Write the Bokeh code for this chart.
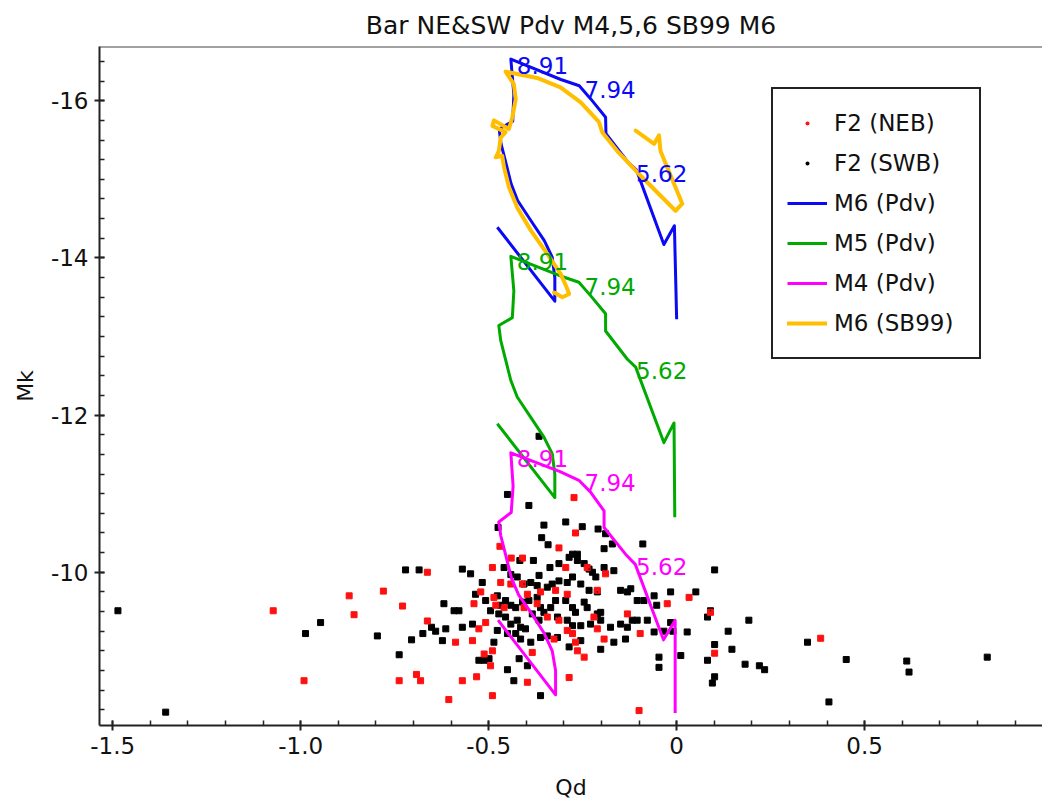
from bokeh.plotting import figure
from bokeh.models import (Range1d, SingleIntervalTicker, Legend, Span,
                          LegendItem, ColumnDataSource, CustomJSTickFormatter)
from bokeh.embed import file_html
from bokeh.resources import INLINE
from bokeh.core.properties import value

FONT = "DejaVu Sans"

# ---------------- data ----------------
neb_qd = [-1.073, -0.991, -0.871, -0.858, -0.780, -0.729, -0.738, -0.692, -0.681, -0.663, -0.663,
          -0.273, -0.269, -0.313, -0.470, -0.440, -0.410, -0.490, -0.295, -0.238, -0.189,
          -0.468, -0.441, -0.410, -0.397, -0.362, -0.322, -0.291, -0.211, -0.521, -0.539,
          -0.486, -0.481, -0.459, -0.406, -0.371, -0.344, -0.313, -0.291, -0.277, -0.220,
          -0.211, -0.193, -0.131, -0.097, -0.025, 0.033, -0.508, -0.526, -0.588, -0.543,
          -0.512, -0.490, -0.495, -0.384, -0.326, -0.269, -0.246, -0.264, -0.570, -0.532,
          -0.397, -0.286, -0.606, -0.490, -0.100, 0.090, 0.101, 0.383]
neb_mk = [-9.51, -8.62, -9.70, -9.46, -9.76, -9.57, -8.62, -8.70, -8.62, -10.00, -9.38,
          -10.95, -10.50, -10.31, -10.33, -10.18, -10.18, -10.06, -10.06, -10.06, -9.98,
          -9.87, -9.85, -9.85, -9.72, -9.75, -9.77, -9.72, -9.77, -9.75, -9.60,
          -9.68, -9.58, -9.55, -9.55, -9.60, -9.43, -9.39, -9.26, -9.22, -9.43,
          -9.28, -9.15, -9.47, -9.22, -9.60, -9.68, -9.36, -9.28, -9.11, -9.13,
          -8.96, -9.00, -8.81, -8.98, -9.15, -9.11, -8.92, -9.00, -8.62, -8.67,
          -8.60, -8.66, -8.38, -8.43, -8.24, -9.49, -8.97, -9.16]

swb_qd = [-1.486, -1.359, -0.987, -0.947, -0.796, -0.738, -0.721, -0.685, -0.705, -0.675, -0.652, -0.641,
          -0.366, -0.450, -0.393, -0.475, -0.353, -0.295, -0.251, -0.209, -0.189, -0.359,
          -0.342, -0.193, -0.171, -0.090, -0.570, -0.548, -0.517, -0.459, -0.441, -0.417,
          -0.381, -0.337, -0.313, -0.286, -0.277, -0.264, -0.264, -0.246, -0.233, -0.224,
          -0.215, -0.193, -0.167, -0.424, -0.406, -0.388, -0.366, -0.371, -0.344, -0.331,
          -0.313, -0.291, -0.277, -0.255, -0.233, -0.211, -0.149, -0.131, -0.122, -0.105,
          -0.087, -0.060, -0.016, 0.051, -0.535, -0.508, -0.477, -0.468, -0.455, -0.441,
          -0.428, -0.410, -0.393, -0.371, -0.362, -0.353, -0.335, -0.322, -0.295, -0.277,
          -0.269, -0.246, -0.238, -0.211, -0.202, -0.619, -0.592, -0.579, -0.495, -0.473,
          -0.455, -0.441, -0.424, -0.415, -0.402, -0.384, -0.366, -0.317, -0.291, -0.277,
          -0.255, -0.229, -0.202, -0.176, -0.149, -0.131, -0.118, -0.105, -0.078, -0.053,
          -0.016, 0.028, -0.060, -0.614, -0.570, -0.543, -0.477, -0.450, -0.428, -0.415,
          -0.388, -0.362, -0.344, -0.317, -0.286, -0.255, -0.202, -0.167, -0.136, -0.623,
          -0.486, -0.512, -0.499, -0.526, -0.419, -0.397, -0.450, -0.433, -0.362, -0.047,
          -0.047, 0.011, 0.082, 0.082, 0.101, -0.034, -0.010, 0.137, 0.192, 0.101,
          0.147, 0.101, 0.095, 0.182, 0.220, 0.234, 0.348, 0.451, 0.405, 0.612,
          0.618, 0.826, 0.090]
swb_mk = [-9.51, -8.22, -9.22, -9.36, -9.19, -8.95, -10.03, -10.03, -9.14, -9.22, -9.30, -9.25,
          -11.73, -10.99, -10.85, -10.57, -10.60, -10.64, -10.58, -10.55, -10.49, -10.44,
          -10.35, -10.30, -10.36, -10.36, -10.04, -9.98, -9.87, -10.06, -9.97, -10.15,
          -10.15, -10.06, -10.11, -10.19, -10.23, -10.23, -10.15, -10.11, -10.04, -10.00,
          -9.94, -10.06, -10.02, -9.94, -9.85, -9.87, -9.96, -9.83, -9.81, -9.85,
          -9.89, -9.87, -9.94, -9.85, -9.77, -9.75, -9.77, -9.75, -9.79, -9.64,
          -9.64, -9.70, -9.75, -9.75, -9.72, -9.64, -9.70, -9.58, -9.64, -9.58,
          -9.55, -9.62, -9.64, -9.68, -9.55, -9.49, -9.55, -9.64, -9.64, -9.55,
          -9.49, -9.62, -9.55, -9.47, -9.49, -9.60, -9.51, -9.51, -9.51, -9.47,
          -9.43, -9.34, -9.39, -9.30, -9.28, -9.47, -9.39, -9.43, -9.39, -9.32,
          -9.32, -9.34, -9.39, -9.30, -9.34, -9.30, -9.39, -9.39, -9.39, -9.58,
          -9.36, -9.24, -9.24, -9.28, -9.30, -9.34, -9.26, -9.22, -9.22, -9.15,
          -9.11, -9.17, -9.19, -9.17, -9.05, -9.13, -9.02, -9.11, -9.15, -9.13,
          -9.11, -8.88, -8.90, -8.88, -8.90, -8.81, -8.76, -8.62, -8.43, -8.92,
          -8.79, -8.94, -8.88, -9.43, -10.03, -9.25, -9.25, -9.25, -9.39, -9.08,
          -9.02, -8.67, -8.59, -8.83, -8.81, -8.76, -9.11, -8.89, -8.35, -8.87,
          -8.73, -8.92, -9.51]

m6_qd = [0.000, -0.006, -0.034, -0.107, -0.130, -0.188, -0.189, -0.228, -0.259, -0.308, -0.441, -0.433,
         -0.436, -0.472, -0.467, -0.440, -0.423, -0.387, -0.352, -0.331, -0.324, -0.324, -0.477]
m6_mk = [-13.22, -14.41, -14.17, -15.12, -15.22, -15.58, -15.79, -16.02, -16.19, -16.27, -16.53, -16.08,
         -15.74, -15.64, -15.45, -14.94, -14.73, -14.47, -14.22, -14.01, -13.75, -13.45, -14.39]

m5_qd = [-0.005, -0.007, -0.034, -0.109, -0.131, -0.189, -0.189, -0.229, -0.260, -0.309, -0.441, -0.433,
         -0.437, -0.473, -0.468, -0.441, -0.424, -0.388, -0.353, -0.331, -0.324, -0.324, -0.477]
m5_mk = [-10.70, -11.90, -11.65, -12.61, -12.71, -13.07, -13.29, -13.52, -13.69, -13.77, -14.02, -13.58,
         -13.24, -13.14, -12.95, -12.44, -12.23, -11.97, -11.72, -11.51, -11.25, -10.95, -11.89]

m4_qd = [-0.004, -0.004, -0.035, -0.110, -0.136, -0.193, -0.193, -0.229, -0.260, -0.310, -0.441, -0.435,
         -0.440, -0.473, -0.468, -0.439, -0.420, -0.385, -0.352, -0.331, -0.322, -0.322, -0.475]
m4_mk = [-8.21, -9.39, -9.14, -10.10, -10.23, -10.57, -10.78, -11.02, -11.17, -11.28, -11.52, -11.10,
         -10.76, -10.64, -10.47, -9.92, -9.71, -9.47, -9.22, -9.00, -8.75, -8.44, -9.39]

sb99_qd = [-0.109, -0.060, -0.047, -0.043, 0.015, -0.003, -0.105, -0.158, -0.198, -0.207, -0.255,
           -0.309, -0.371, -0.455, -0.433, -0.428, -0.437, -0.446, -0.486, -0.490, -0.455, -0.468,
           -0.473, -0.481, -0.464, -0.459, -0.446, -0.424, -0.388, -0.344, -0.309, -0.293, -0.286,
           -0.304, -0.326]
sb99_mk = [-15.62, -15.45, -15.56, -15.36, -14.69, -14.60, -15.09, -15.36, -15.60, -15.73, -15.98,
           -16.17, -16.29, -16.37, -16.21, -16.02, -15.79, -15.64, -15.75, -15.68, -15.60, -15.53,
           -15.36, -15.28, -15.30, -15.15, -14.90, -14.64, -14.35, -14.05, -13.80, -13.63, -13.54,
           -13.50, -13.56]

age_labels = ["8.91", "7.94", "5.62"]
lab_qd = [-0.425, -0.245, -0.108]
m6_lab_mk = [-16.45, -16.14, -15.07]
m5_lab_mk = [-13.95, -13.64, -12.57]
m4_lab_mk = [-11.45, -11.14, -10.07]

X_LO, X_HI = -1.535, 0.973
Y_BOTTOM, Y_TOP = -8.05, -16.69

# ---------------- figure ----------------
p = figure(width=1042, height=805,
           min_border_left=99, min_border_right=0, min_border_top=46, min_border_bottom=80,
           x_range=Range1d(X_LO, X_HI), y_range=Range1d(Y_BOTTOM, Y_TOP),
           output_backend="svg", toolbar_location=None,
           title="Bar NE&SW Pdv M4,5,6 SB99 M6", x_axis_label="Qd", y_axis_label="Mk")
p.outline_line_color = None
p.xgrid.visible = False
p.ygrid.visible = False
p.background_fill_color = "white"
p.border_fill_color = "white"

p.title.align = "center"
p.title.text_font = FONT
p.title.text_font_size = "25px"
p.title.text_font_style = "normal"
p.title.text_color = "#111111"
p.title.standoff = 14

p.xaxis.ticker = SingleIntervalTicker(interval=0.5, num_minor_ticks=5)
p.yaxis.ticker = SingleIntervalTicker(interval=2, num_minor_ticks=8)
p.xaxis.formatter = CustomJSTickFormatter(code="return tick == 0 ? '0' : tick.toFixed(1);")
p.yaxis.formatter = CustomJSTickFormatter(code="return tick.toFixed(0);")

for ax in (p.xaxis[0], p.yaxis[0]):
    ax.axis_line_width = 2
    ax.axis_line_color = "#222222"
    ax.major_tick_in = 5
    ax.major_tick_out = 5
    ax.minor_tick_in = 5
    ax.minor_tick_out = 0
    ax.major_tick_line_width = 2
    ax.minor_tick_line_width = 1.5
    ax.major_tick_line_color = "#222222"
    ax.minor_tick_line_color = "#222222"
    ax.major_label_text_font = FONT
    ax.major_label_text_font_size = "23px"
    ax.major_label_text_color = "#111111"
    ax.major_label_standoff = 6
    ax.axis_label_text_font = FONT
    ax.axis_label_text_font_size = "22px"
    ax.axis_label_text_font_style = "normal"
    ax.axis_label_text_color = "#111111"
p.xaxis.axis_label_standoff = 18
p.yaxis.axis_label_standoff = 10

p.add_layout(Span(location=Y_TOP, dimension="width", line_color="#444444", line_width=2))

RED = "#ff1010"
r_swb = p.scatter(swb_qd, swb_mk, marker="square", size=6, color="black")
r_neb = p.scatter(neb_qd, neb_mk, marker="square", size=6, color=RED)
# small dot keys for the legend (hidden inside the squares of the same colour)
k_swb = p.scatter(swb_qd, swb_mk, marker="dot", size=6, color="black")
k_neb = p.scatter(neb_qd, neb_mk, marker="dot", size=6, color=RED)

BLUE, GREEN, MAG, ORANGE = "#0a0af5", "#00aa00", "#ff00ff", "#ffbf00"
r_m6 = p.line(m6_qd, m6_mk, line_color=BLUE, line_width=3, line_join="round")
r_m5 = p.line(m5_qd, m5_mk, line_color=GREEN, line_width=3, line_join="round")
r_m4 = p.line(m4_qd, m4_mk, line_color=MAG, line_width=3, line_join="round")
r_sb = p.line(sb99_qd, sb99_mk, line_color=ORANGE, line_width=4, line_join="round", line_cap="round")

for mk, col in ((m6_lab_mk, BLUE), (m5_lab_mk, GREEN), (m4_lab_mk, MAG)):
    src = ColumnDataSource(dict(x=lab_qd, y=mk, t=age_labels))
    p.text(x="x", y="y", text="t", source=src, text_color=col, text_font=value(FONT),
           text_font_size="23px", text_align="left", text_baseline="middle")

legend = Legend(items=[LegendItem(label="F2 (NEB)", renderers=[k_neb]),
                       LegendItem(label="F2 (SWB)", renderers=[k_swb]),
                       LegendItem(label="M6 (Pdv)", renderers=[r_m6]),
                       LegendItem(label="M5 (Pdv)", renderers=[r_m5]),
                       LegendItem(label="M4 (Pdv)", renderers=[r_m4]),
                       LegendItem(label="M6 (SB99)", renderers=[r_sb])],
                location=(672, 366), label_text_font=FONT, label_text_font_size="23px",
                label_text_color="#111111", glyph_width=40, glyph_height=40, label_height=40,
                label_width=131, spacing=0, padding=14, margin=0, label_standoff=7,
                border_line_color="#222222", border_line_width=2, border_line_alpha=1.0,
                background_fill_alpha=1.0)
p.add_layout(legend)

open("out.html", "w").write(file_html(p, INLINE))
